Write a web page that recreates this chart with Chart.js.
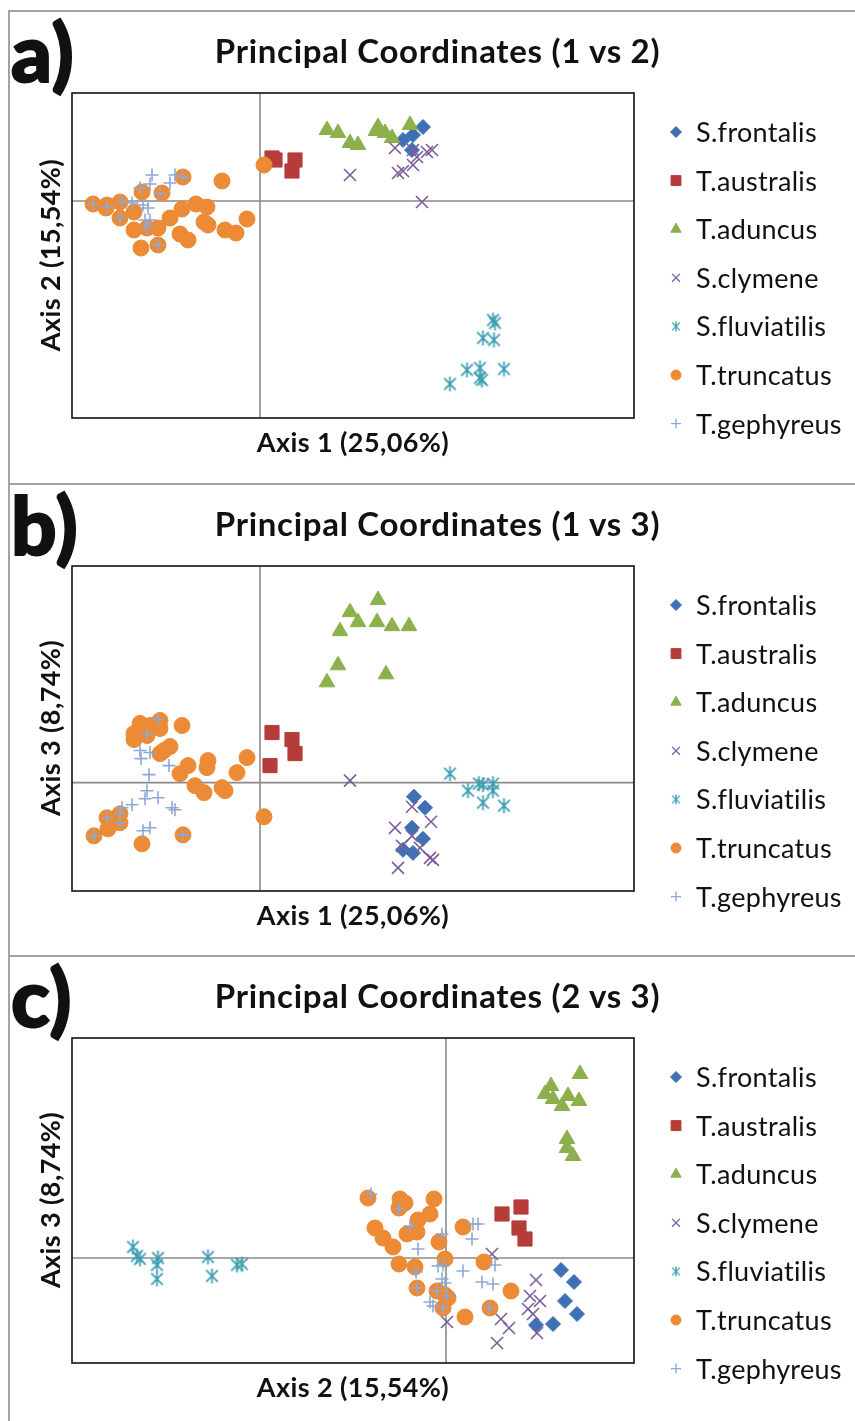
<!DOCTYPE html>
<html>
<head>
<meta charset="utf-8">
<script src="https://cdn.jsdelivr.net/npm/chart.js@4.4.1/dist/chart.umd.min.js"></script>
<style>
  body { margin: 0; background: #fff; }
  #page { position: relative; width: 855px; height: 1421px; overflow: hidden; font-family: Lato, "Open Sans", sans-serif; color: #111; }
  .panel { position: absolute; left: 0; width: 855px; height: 472px; }
  .frame { position: absolute; left: 8px; top: 0; width: 900px; height: 472px; border-top: 2px solid #a3a3a3; border-left: 2px solid #a3a3a3; }
  .panel canvas { position: absolute; left: 0; top: 0; }
  .letter { position: absolute; left: 11px; top: -4px; font-size: 80px; font-weight: 900; line-height: 90px; -webkit-text-stroke: 2px #111; letter-spacing: 1px; }
  .title { position: absolute; left: 0; width: 875px; top: 20px; text-align: center; font-size: 33px; font-weight: 700; line-height: 40px; letter-spacing: 0.7px; }
  .xtitle { position: absolute; left: 153px; width: 400px; top: 416px; text-align: center; font-size: 27px; font-weight: 700; line-height: 32px; letter-spacing: 0.4px; }
  .ytitle { position: absolute; left: -100px; width: 300px; top: 229px; text-align: center; font-size: 27px; font-weight: 700; line-height: 32px; letter-spacing: 0.4px; transform: rotate(-90deg); }
  .leg { position: absolute; left: 696px; font-size: 27px; line-height: 32px; letter-spacing: 0.3px; }
</style>
</head>
<body>
<div id="page"></div>
<script>
// species, in Excel series order
const species = ['S.frontalis', 'T.australis', 'T.aduncus', 'S.clymene', 'S.fluviatilis', 'T.truncatus', 'T.gephyreus'];

// ---- panel a: axis 1 vs axis 2
const aFrontalis = [[1.63,0.74],[1.53,0.66],[1.43,0.61],[1.52,0.51]];
const aAustralis = [[0.12,0.43],[0.15,0.41],[0.35,0.41],[0.32,0.30]];
const aAduncus = [[0.67,0.71],[0.78,0.68],[0.90,0.58],[0.98,0.56],[1.18,0.74],[1.16,0.70],[1.25,0.68],[1.32,0.63],[1.50,0.76]];
const aClymene = [[0.90,0.26],[1.35,0.53],[1.38,0.28],[1.43,0.30],[1.53,0.36],[1.53,0.51],[1.67,0.49],[1.72,0.51],[1.62,-0.01],[1.57,0.44]];
const aFluviatilis = [[2.33,-1.19],[2.35,-1.22],[2.23,-1.37],[2.34,-1.39],[2.07,-1.69],[2.20,-1.67],[2.20,-1.77],[2.22,-1.79],[2.44,-1.68],[1.90,-1.83]];
const aTruncatus = [[-1.67,-0.03],[-1.53,-0.04],[-1.40,-0.01],[-1.54,-0.07],[-1.40,-0.17],[-1.26,-0.11],[-1.18,0.09],[-0.98,0.08],
  [-0.77,0.24],[-0.38,0.20],[-1.26,-0.29],[-1.13,-0.27],[-1.02,-0.27],[-0.90,-0.17],[-0.78,-0.08],[-0.64,-0.03],[-0.53,-0.06],
  [-0.56,-0.21],[-0.52,-0.24],[-0.80,-0.33],[-0.72,-0.39],[-1.19,-0.47],[-1.02,-0.44],[-0.35,-0.29],[-0.24,-0.32],[-0.13,-0.18],[0.04,0.36]];
const aGephyreus = [[-1.08,0.26],[-0.85,0.26],[-0.90,0.18],[-1.20,0.13],[-1.10,0.17],[-1.00,0.08],[-1.17,-0.04],[-1.28,-0.02],[-1.12,-0.07],
  [-1.15,-0.19],[-1.10,-0.19],[-1.13,-0.27],[-1.02,-0.44],[-1.40,-0.17],[-1.53,-0.06],[-1.67,-0.03],[-1.38,-0.01],[-0.77,0.24]];

// ---- panel b: axis 1 vs axis 3
const bFrontalis = [[1.54,-0.14],[1.65,-0.25],[1.52,-0.45],[1.63,-0.56],[1.43,-0.67],[1.53,-0.70]];
const bAustralis = [[0.12,0.50],[0.32,0.43],[0.35,0.29],[0.10,0.17]];
const bAduncus = [[1.18,1.82],[0.90,1.70],[0.98,1.60],[1.17,1.60],[1.32,1.56],[1.49,1.56],[0.80,1.51],[0.78,1.17],[1.26,1.08],[0.67,1.00]];
const bClymene = [[0.90,0.02],[1.52,-0.24],[1.71,-0.39],[1.35,-0.45],[1.52,-0.53],[1.42,-0.63],[1.60,-0.65],[1.70,-0.75],[1.73,-0.77],[1.38,-0.85]];
const bFluviatilis = [[1.90,0.09],[2.08,-0.08],[2.19,-0.01],[2.23,-0.02],[2.33,-0.01],[2.33,-0.08],[2.23,-0.20],[2.44,-0.23]];
const bTruncatus = [[-1.20,0.59],[-1.10,0.57],[-1.00,0.62],[-1.00,0.54],[-1.26,0.49],[-1.26,0.43],[-1.13,0.47],[-0.78,0.57],[-1.00,0.29],
  [-0.90,0.36],[-0.96,0.32],[-0.72,0.17],[-0.80,0.09],[-0.52,0.22],[-0.53,0.15],[-0.23,0.10],[-0.13,0.25],[-0.65,-0.03],[-0.56,-0.10],
  [-0.38,-0.05],[-0.35,-0.08],[0.04,-0.34],[-1.53,-0.35],[-1.40,-0.31],[-1.52,-0.46],[-1.40,-0.40],[-1.66,-0.53],[-1.18,-0.61],[-0.77,-0.52]];
const bGephyreus = [[-1.02,0.63],[-1.13,0.48],[-1.20,0.32],[-1.10,0.30],[-1.19,0.24],[-0.91,0.17],[-1.11,0.08],[-1.13,-0.08],[-1.15,-0.16],
  [-1.02,-0.15],[-1.28,-0.22],[-1.38,-0.25],[-0.88,-0.25],[-0.85,-0.27],[-1.40,-0.31],[-1.53,-0.35],[-1.40,-0.40],[-1.66,-0.53],
  [-1.17,-0.48],[-1.10,-0.45],[-0.77,-0.52]];

// ---- panel c: axis 2 vs axis 3
const cFrontalis = [[1.15,-0.12],[1.28,-0.24],[1.19,-0.43],[1.31,-0.56],[1.07,-0.66],[0.90,-0.67]];
const cAustralis = [[0.56,0.44],[0.75,0.51],[0.73,0.30],[0.79,0.19]];
const cAduncus = [[1.34,1.84],[1.05,1.72],[0.99,1.64],[1.07,1.59],[1.16,1.52],[1.22,1.62],[1.33,1.57],[1.21,1.19],[1.21,1.10],[1.27,1.02]];
const cClymene = [[0.46,0.04],[0.90,-0.22],[0.84,-0.38],[0.94,-0.43],[0.82,-0.51],[0.87,-0.56],[0.55,-0.61],[0.63,-0.70],[0.91,-0.75],[0.51,-0.85],[0.01,-0.64]];
const cFluviatilis = [[-3.13,0.11],[-3.09,0.02],[-3.06,-0.01],[-2.88,0.00],[-2.89,-0.07],[-2.89,-0.21],[-2.38,0.01],[-2.34,-0.18],[-2.09,-0.07],[-2.04,-0.06]];
const cTruncatus = [[-0.78,0.60],[-0.46,0.59],[-0.41,0.55],[-0.47,0.50],[-0.12,0.59],[-0.16,0.44],[-0.28,0.38],[-0.29,0.26],[-0.39,0.24],
  [-0.71,0.30],[-0.63,0.20],[-0.53,0.11],[-0.07,0.16],[0.17,0.31],[-0.01,-0.01],[-0.47,-0.06],[-0.31,-0.09],[0.38,-0.04],[-0.29,-0.30],
  [-0.09,-0.33],[-0.01,-0.37],[0.02,-0.40],[-0.03,-0.50],[0.19,-0.59],[0.44,-0.50],[0.65,-0.33]];
const cGephyreus = [[-0.75,0.64],[-0.47,0.49],[-0.36,0.32],[-0.04,0.24],[-0.28,0.09],[0.26,0.19],[0.27,0.34],[0.32,0.34],[-0.08,-0.08],
  [-0.03,-0.07],[0.17,-0.13],[0.49,-0.07],[-0.30,-0.14],[-0.04,-0.21],[-0.01,-0.25],[0.36,-0.24],[0.47,-0.26],[-0.29,-0.30],[-0.09,-0.33],
  [0.01,-0.38],[-0.16,-0.44],[-0.13,-0.48],[-0.03,-0.50],[0.43,-0.50]];

const colors = ['#3f70b4', '#b63c3a', '#8cb04c', '#7c5e9d', '#3a9db3', '#ec8a35', '#8ea8d5'];

// Excel's asterisk marker: an x with a vertical bar through it
function asterisk(size, color, lw) {
  const c = document.createElement('canvas');
  c.width = c.height = size + 4;
  const g = c.getContext('2d');
  const m = c.width / 2, r = size / 2, d = r * 0.78;
  g.strokeStyle = color;
  g.lineWidth = lw;
  g.beginPath();
  g.moveTo(m, m - r); g.lineTo(m, m + r);
  g.moveTo(m - d, m - d); g.lineTo(m + d, m + d);
  g.moveTo(m + d, m - d); g.lineTo(m - d, m + d);
  g.stroke();
  return c;
}

const markers = [
  {style: 'rectRot', r: 7.5, w: 1},
  {style: 'rect', r: 10, w: 1},
  {style: 'triangle', r: 9, w: 1},
  {style: 'crossRot', r: 8.5, w: 1.6},
  {style: asterisk(15, colors[4], 1.7), r: 7, w: 0},
  {style: 'circle', r: 8, w: 1},
  {style: 'cross', r: 6.5, w: 1.6}
];
const legendMarkers = [
  {style: 'rectRot', r: 5.5, w: 1},
  {style: 'rect', r: 7, w: 1},
  {style: 'triangle', r: 6, w: 1},
  {style: 'crossRot', r: 5.5, w: 1.3},
  {style: asterisk(10, colors[4], 1.3), r: 5, w: 0},
  {style: 'circle', r: 5, w: 1},
  {style: 'cross', r: 5, w: 1.3}
];

const framePlugin = {
  id: 'frame',
  beforeDatasetsDraw(chart) {
    const {ctx, chartArea: a, scales: {x, y}} = chart;
    const x0 = x.getPixelForValue(0), y0 = y.getPixelForValue(0);
    ctx.save();
    ctx.strokeStyle = '#8a8a8a';
    ctx.lineWidth = 1.6;
    ctx.beginPath();
    ctx.moveTo(x0, a.top); ctx.lineTo(x0, a.bottom);
    ctx.moveTo(a.left, y0); ctx.lineTo(a.right, y0);
    ctx.stroke();
    ctx.restore();
  },
  afterDatasetsDraw(chart) {
    const {ctx, chartArea: a} = chart;
    ctx.save();
    ctx.strokeStyle = '#111';
    ctx.lineWidth = 1.6;
    ctx.strokeRect(a.left, a.top, a.right - a.left, a.bottom - a.top);
    // legend markers
    legendMarkers.forEach((m, i) => {
      ctx.fillStyle = colors[i];
      ctx.strokeStyle = colors[i];
      ctx.lineWidth = m.w;
      Chart.helpers.drawPoint(ctx, {pointStyle: m.style, radius: m.r, borderWidth: m.w, rotation: 0}, 676, 122 + i * 48.6);
    });
    ctx.restore();
  }
};

const panels = [
  {top: 10, letter: 'a)', title: 'Principal Coordinates (1 vs 2)', xt: 'Axis 1 (25,06%)', yt: 'Axis 2 (15,54%)',
   sets: [aFrontalis, aAustralis, aAduncus, aClymene, aFluviatilis, aTruncatus, aGephyreus], xr: [-1.88, 3.74], yr: [-2.17, 1.08]},
  {top: 483, letter: 'b)', title: 'Principal Coordinates (1 vs 3)', xt: 'Axis 1 (25,06%)', yt: 'Axis 3 (8,74%)',
   sets: [bFrontalis, bAustralis, bAduncus, bClymene, bFluviatilis, bTruncatus, bGephyreus], xr: [-1.88, 3.74], yr: [-1.08, 2.16]},
  {top: 955, letter: 'c)', title: 'Principal Coordinates (2 vs 3)', xt: 'Axis 2 (15,54%)', yt: 'Axis 3 (8,74%)',
   sets: [cFrontalis, cAustralis, cAduncus, cClymene, cFluviatilis, cTruncatus, cGephyreus], xr: [-3.74, 1.88], yr: [-1.05, 2.20]}
];

const page = document.getElementById('page');
panels.forEach((p, k) => {
  const div = document.createElement('div');
  div.className = 'panel';
  div.style.top = p.top + 'px';
  let html = '<div class="frame"></div><canvas id="c' + k + '" width="855" height="472"></canvas>' +
    '<div class="letter">' + p.letter + '</div><div class="title">' + p.title + '</div>' +
    '<div class="xtitle">' + p.xt + '</div><div class="ytitle">' + p.yt + '</div>';
  species.forEach((s, i) => {
    html += '<div class="leg" style="top:' + (106 + i * 48.6) + 'px">' + s + '</div>';
  });
  div.innerHTML = html;
  page.appendChild(div);

  new Chart(document.getElementById('c' + k), {
    type: 'scatter',
    data: {
      datasets: species.map((name, i) => ({
        label: name,
        data: p.sets[i].map(v => ({x: v[0], y: v[1]})),
        pointStyle: markers[i].style,
        pointRadius: markers[i].r,
        pointBorderWidth: markers[i].w,
        backgroundColor: colors[i],
        borderColor: colors[i],
        order: 6 - i
      }))
    },
    options: {
      responsive: false,
      animation: false,
      events: [],
      layout: {padding: {top: 83, left: 72, right: 221, bottom: 64}},
      scales: {
        x: {type: 'linear', min: p.xr[0], max: p.xr[1], display: false},
        y: {type: 'linear', min: p.yr[0], max: p.yr[1], display: false}
      },
      plugins: {legend: {display: false}, tooltip: {enabled: false}}
    },
    plugins: [framePlugin]
  });
});
</script>
</body>
</html>
